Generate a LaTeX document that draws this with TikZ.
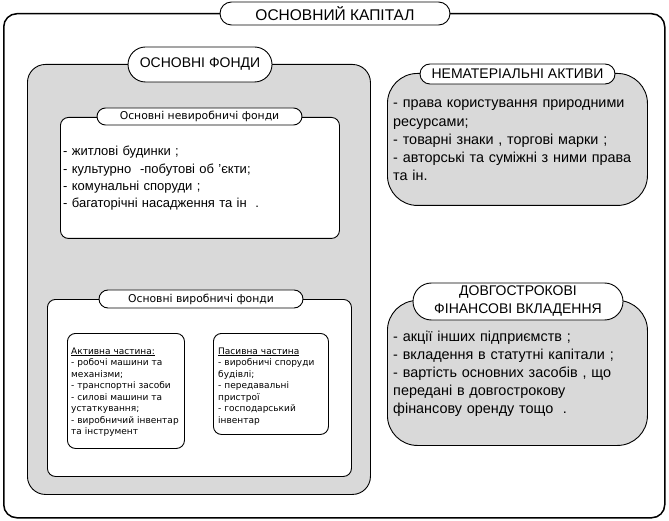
\documentclass[tikz,border=0pt]{standalone}
\usepackage{fontspec}
\setmainfont{Liberation Sans}
\newfontfamily\smallfnt{DejaVu Sans}
\usetikzlibrary{shapes.misc}
\definecolor{boxgray}{RGB}{217,217,217}
\tikzset{
  frame/.style={draw, line width=0.9pt, rectangle, anchor=north west, inner sep=0pt},
  outerframe/.style={frame, line width=1.5pt, rounded corners=13pt, fill=white},
  grayframe/.style={frame, fill=boxgray, rounded corners=18pt},
  bubble/.style={frame, fill=boxgray, rounded corners=30pt},
  whiteframe/.style={frame, fill=white, rounded corners=8pt},
  capsule/.style={draw, line width=0.9pt, fill=white, rounded rectangle, inner sep=0pt, align=center},
  listtext/.style={anchor=base west, inner sep=0pt, align=left, text width=#1},
  bigfont/.style={font=\fontsize{13}{17.2}\selectfont},
  midfont/.style={font=\fontsize{14.4}{18.2}\selectfont},
  tinyfont/.style={font=\smallfnt\fontsize{9}{11.5}\selectfont},
  labfont/.style={font=\smallfnt\fontsize{10.8}{13}\selectfont},
}
\begin{document}
\begin{tikzpicture}[x=1pt,y=-1pt]
\useasboundingbox[fill=white] (0,0) rectangle (669,521);
% outer frame
\node[outerframe, minimum width=661pt, minimum height=504pt] (outer) at (3,13) {};
\node[capsule, minimum width=230pt, minimum height=23pt, font=\fontsize{15.5}{17}\selectfont] (title) at (335,13.5) {ОСНОВНИЙ КАПІТАЛ};

% ОСНОВНІ ФОНДИ
\node[grayframe, minimum width=343pt, minimum height=430pt] (fondy) at (27,64) {};
\node[capsule, minimum width=144pt, minimum height=35pt, font=\fontsize{14}{16}\selectfont] (fondyt) at (200,64.5) {ОСНОВНІ ФОНДИ};

% non-production
\node[whiteframe, minimum width=279pt, minimum height=121pt] (nonprod) at (60,117) {};
\node[capsule, minimum width=205pt, minimum height=17pt, labfont] (nonprodt) at (199.5,116.5) {Основні невиробничі фонди};
\node[listtext=270pt, bigfont] (nonprodl) at (63,156) {- житлові будинки ;\\
- культурно\ \ -побутові об 'єкти;\\
- комунальні споруди ;\\
- багаторічні насадження та ін\ \ .};

% production
\node[whiteframe, minimum width=304pt, minimum height=177pt] (prod) at (47,299) {};
\node[capsule, minimum width=204pt, minimum height=18pt, labfont] (prodt) at (201,299) {Основні виробничі фонди};
\node[whiteframe, minimum width=117pt, minimum height=115pt] (active) at (67,333) {};
\node[listtext=114pt, tinyfont] (activel) at (71,354) {\underline{Активна частина:}\\
- робочі машини та\\
механізми;\\
- транспортні засоби\\
- силові машини та\\
устаткування;\\
- виробничий інвентар\\
та інструмент};
\node[whiteframe, minimum width=115pt, minimum height=101pt] (passive) at (213,333) {};
\node[listtext=112pt, tinyfont] (passivel) at (218,354) {\underline{Пасивна частина}\\
- виробничі споруди\\
будівлі;\\
- передавальні\\
пристрої\\
- господарський\\
інвентар};

% intangible assets
\node[bubble, minimum width=260pt, minimum height=132pt] (intang) at (387,73) {};
\node[capsule, minimum width=195pt, minimum height=20pt, font=\fontsize{14}{16}\selectfont] (intangt) at (517.5,74) {НЕМАТЕРІАЛЬНІ АКТИВИ};
\node[listtext=255pt, midfont] (intangl) at (393,108) {- права користування природними\\
ресурсами;\\
- товарні знаки , торгові марки ;\\
- авторські та суміжні з ними права\\
та ін.};

% long-term financial investments
\node[bubble, minimum width=260pt, minimum height=145pt] (invest) at (387,300) {};
\node[capsule, minimum width=210pt, minimum height=37pt, font=\fontsize{14}{18}\selectfont] (investt) at (518,301.5) {ДОВГОСТРОКОВІ\\ФІНАНСОВІ ВКЛАДЕННЯ};
\node[listtext=255pt, midfont] (investl) at (393,341) {- акції інших підприємств ;\\
- вкладення в статутні капітали ;\\
- вартість основних засобів , що\\
передані в довгострокову\\
фінансову оренду тощо\ \ .};
\end{tikzpicture}
\end{document}
